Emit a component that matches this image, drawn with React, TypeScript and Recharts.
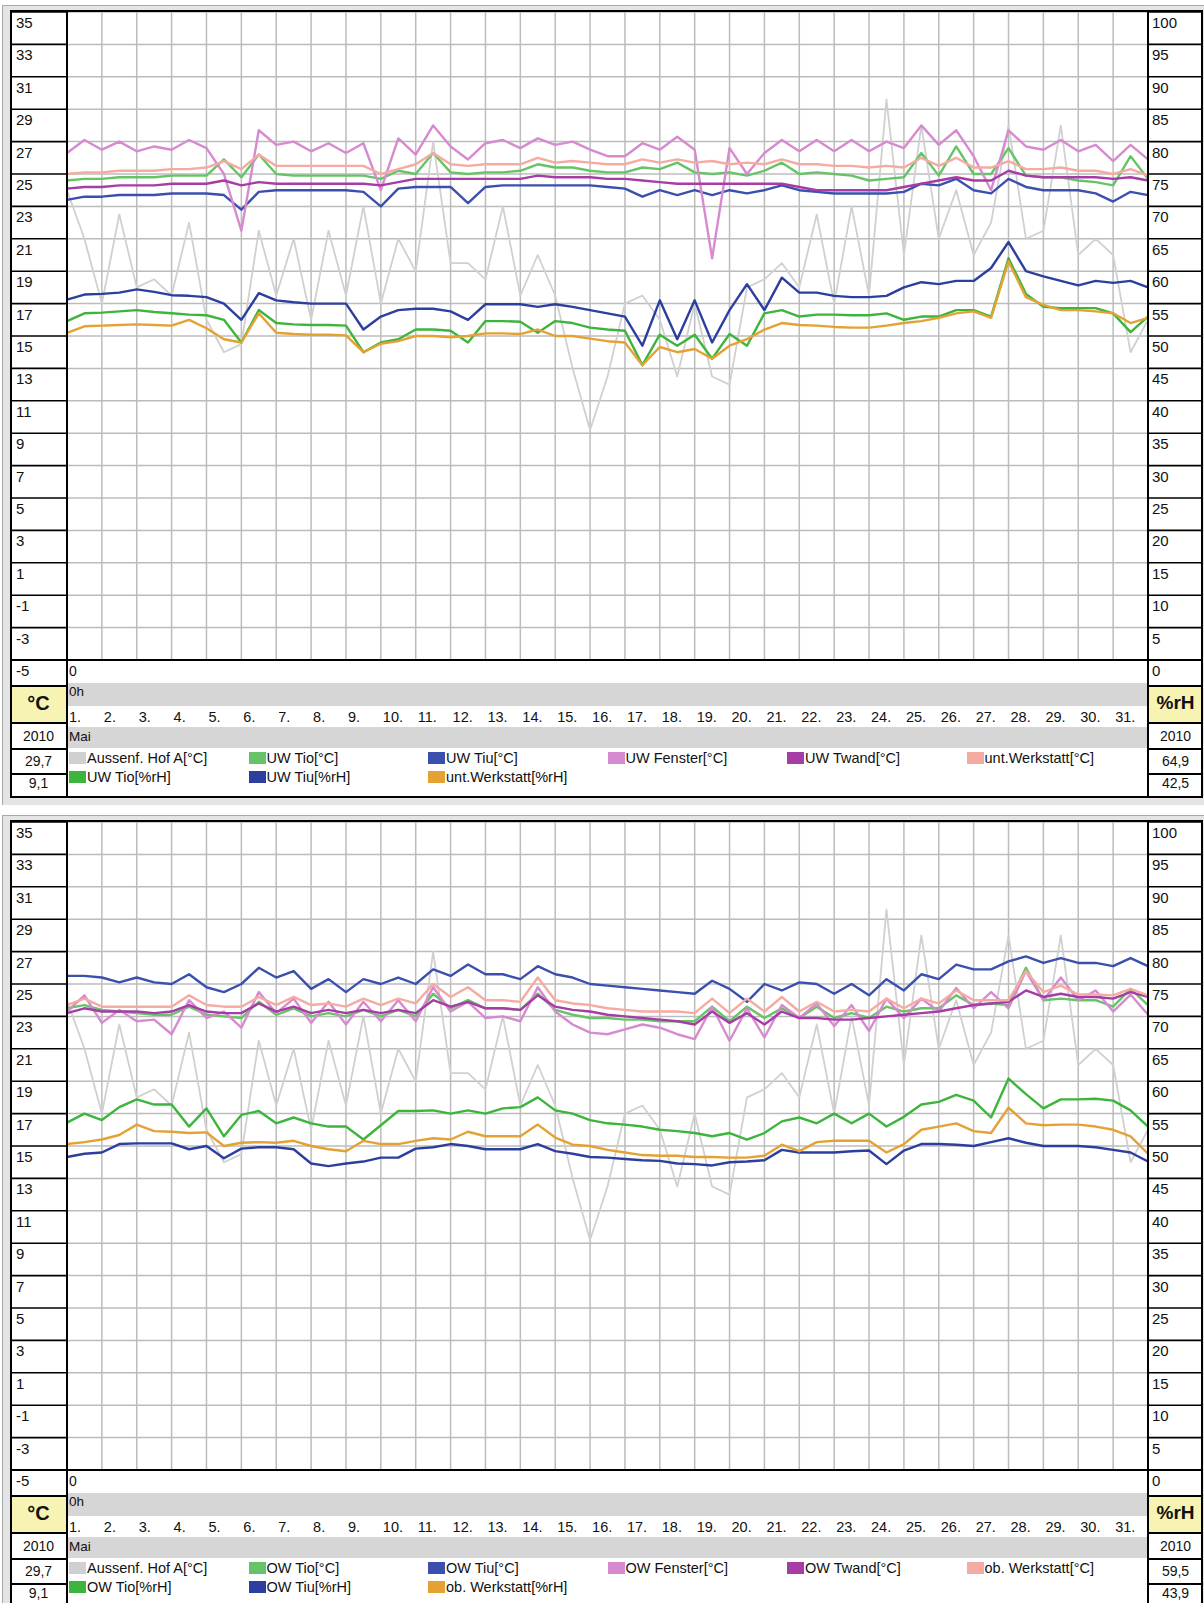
import React from "react";
import { LineChart, Line, XAxis, YAxis, CartesianGrid } from "recharts";

// time in days since 1 May 0h, half-day steps
const days = [
  0, 0.5, 1, 1.5, 2, 2.5, 3, 3.5, 4, 4.5,
  5, 5.5, 6, 6.5, 7, 7.5, 8, 8.5, 9, 9.5,
  10, 10.5, 11, 11.5, 12, 12.5, 13, 13.5, 14, 14.5,
  15, 15.5, 16, 16.5, 17, 17.5, 18, 18.5, 19, 19.5,
  20, 20.5, 21, 21.5, 22, 22.5, 23, 23.5, 24, 24.5,
  25, 25.5, 26, 26.5, 27, 27.5, 28, 28.5, 29, 29.5,
  30, 30.5, 31,
];
const dayTicks = [0, 1, 2, 3, 4, 5, 6, 7, 8, 9, 10, 11, 12, 13, 14, 15, 16, 17, 18, 19, 20, 21, 22, 23, 24, 25, 26, 27, 28, 29, 30, 31];
const dayLabels = ["1.", "2.", "3.", "4.", "5.", "6.", "7.", "8.", "9.", "10.", "11.", "12.", "13.", "14.", "15.", "16.", "17.", "18.", "19.", "20.", "21.", "22.", "23.", "24.", "25.", "26.", "27.", "28.", "29.", "30.", "31."];
const tempTicks = [-5, -3, -1, 1, 3, 5, 7, 9, 11, 13, 15, 17, 19, 21, 23, 25, 27, 29, 31, 33, 35];
const rhTicks = [0, 5, 10, 15, 20, 25, 30, 35, 40, 45, 50, 55, 60, 65, 70, 75, 80, 85, 90, 95, 100];

// outside sensor, same in both panels
const aussenHof = [
  24, 21, 17, 22.5, 18, 18.5, 17.5, 22, 16, 14,
  14.5, 21.5, 17.5, 21, 16, 21.5, 17.5, 23, 17, 21,
  19, 27, 19.5, 19.5, 18.5, 23, 17.5, 20, 17.5, 13,
  9.2, 12.5, 17, 17.5, 16, 12.5, 17, 12.5, 12, 18,
  18.5, 19.5, 18, 22.5, 17, 23, 17.5, 29.6, 20, 28,
  21, 24, 20, 22, 28, 21, 21.5, 28, 20, 21,
  20, 14, 16,
];

// upper panel (UW / unt. Werkstatt)
const uwTioC = [
  24.6, 24.7, 24.7, 24.8, 24.8, 24.8, 24.9, 24.9, 24.9, 25.9,
  24.8, 26.2, 25.0, 24.9, 24.9, 24.9, 24.9, 24.9, 24.7, 25.2,
  25.0, 26.3, 25.1, 25.0, 25.1, 25.1, 25.2, 25.6, 25.4, 25.4,
  25.2, 25.1, 25.1, 25.4, 25.3, 25.7, 25.1, 25.0, 25.1, 24.9,
  25.2, 25.7, 25.0, 25.1, 25.0, 24.9, 24.6, 24.7, 24.8, 26.3,
  24.9, 26.7, 25.0, 25.0, 26.6, 24.9, 24.8, 24.8, 24.6, 24.5,
  24.3, 26.1, 24.7,
];
const uwTiuC = [
  23.4, 23.6, 23.6, 23.7, 23.7, 23.7, 23.8, 23.8, 23.8, 23.7,
  22.8, 23.9, 24.0, 24.0, 24.0, 24.0, 24.0, 23.9, 23.0, 24.1,
  24.2, 24.2, 24.2, 23.2, 24.2, 24.3, 24.3, 24.3, 24.3, 24.3,
  24.3, 24.2, 24.1, 23.6, 24.0, 23.7, 24.0, 23.7, 24.0, 23.8,
  24.0, 24.3, 24.0, 23.9, 23.8, 23.8, 23.8, 23.8, 23.9, 24.4,
  24.3, 24.7, 24.0, 23.8, 24.7, 24.2, 24.0, 24.0, 24.0, 23.8,
  23.3, 23.9, 23.7,
];
const uwFenster = [
  26.3, 27.1, 26.5, 27.0, 26.4, 26.7, 26.5, 27.1, 26.6, 25.0,
  21.5, 27.7, 26.8, 27.0, 26.4, 26.9, 26.3, 26.9, 24.0, 27.2,
  26.2, 28.0, 26.7, 25.9, 26.9, 27.1, 26.6, 27.2, 26.8, 27.0,
  26.5, 26.1, 26.1, 26.9, 26.5, 27.3, 26.5, 19.8, 26.6, 25.0,
  26.3, 27.1, 26.4, 27.1, 26.4, 27.1, 26.4, 27.0, 26.6, 28.0,
  26.8, 27.7, 26.1, 24.0, 27.7, 26.7, 26.5, 27.1, 26.4, 26.8,
  25.8, 26.8, 25.9,
];
const uwTwand = [
  24.1, 24.2, 24.2, 24.3, 24.3, 24.3, 24.4, 24.4, 24.4, 24.6,
  24.3, 24.5, 24.4, 24.4, 24.4, 24.4, 24.4, 24.4, 24.3, 24.5,
  24.7, 24.7, 24.7, 24.7, 24.7, 24.7, 24.7, 24.9, 24.8, 24.8,
  24.8, 24.7, 24.7, 24.6, 24.5, 24.4, 24.4, 24.4, 24.4, 24.4,
  24.4, 24.4, 24.2, 24.0, 24.0, 24.0, 24.0, 24.0, 24.2, 24.4,
  24.6, 24.8, 24.6, 24.6, 25.2, 24.9, 24.8, 24.8, 24.8, 24.8,
  24.7, 24.8, 24.6,
];
const untWerkstattC = [
  25.0, 25.1, 25.1, 25.2, 25.2, 25.2, 25.3, 25.3, 25.4, 25.8,
  25.3, 26.2, 25.5, 25.5, 25.5, 25.5, 25.5, 25.5, 25.0, 25.3,
  25.6, 26.3, 25.6, 25.5, 25.6, 25.6, 25.6, 26.0, 25.7, 25.8,
  25.7, 25.6, 25.6, 25.9, 25.7, 25.9, 25.7, 25.8, 25.6, 25.7,
  25.6, 25.9, 25.6, 25.6, 25.5, 25.5, 25.4, 25.5, 25.4, 26.0,
  25.5, 26.0, 25.4, 25.4, 25.8, 25.3, 25.3, 25.4, 25.2, 25.2,
  25.0, 25.3, 24.9,
];
const uwTioRH = [
  52.3, 53.5, 53.6, 53.8, 54.0, 53.7, 53.5, 53.3, 53.2, 52.5,
  49.0, 54.0, 52.0, 51.8, 51.7, 51.7, 51.6, 47.5, 49.0, 49.5,
  51.0, 51.0, 50.8, 49.0, 52.3, 52.3, 52.2, 50.5, 52.3, 52.0,
  51.3, 51.0, 50.8, 45.5, 50.2, 48.5, 50.2, 46.5, 50.3, 48.5,
  53.5, 54.0, 53.0, 53.3, 53.3, 53.2, 53.2, 53.5, 52.5, 53.0,
  53.0, 54.0, 54.0, 53.0, 62.0, 56.5, 54.5, 54.3, 54.3, 54.3,
  53.5, 50.6, 53.0,
];
const uwTiuRH = [
  55.6, 56.4, 56.5, 56.7, 57.2, 56.8, 56.3, 56.2, 56.0, 55.0,
  52.5, 56.6, 55.5, 55.2, 55.0, 55.0, 55.0, 51.0, 53.0, 54.0,
  54.2, 54.2, 53.8, 52.5, 54.9, 54.9, 54.9, 54.5, 54.9, 54.5,
  54.0, 53.5, 53.0, 48.5, 55.5, 49.5, 55.5, 49.0, 54.0, 58.0,
  54.0, 59.0, 56.7, 56.7, 56.2, 56.0, 56.0, 56.2, 57.5, 58.3,
  58.0, 58.5, 58.5, 60.5, 64.5, 60.0, 59.2, 58.5, 57.8, 58.5,
  58.2, 58.5, 57.5,
];
const untWerkstattRH = [
  50.5, 51.5, 51.6, 51.7, 51.8, 51.7, 51.6, 52.5, 51.2, 49.5,
  49.0, 53.5, 50.5, 50.3, 50.2, 50.2, 50.1, 47.5, 48.8, 49.2,
  50.0, 50.0, 49.8, 50.0, 50.4, 50.4, 50.3, 51.0, 50.0, 50.0,
  49.6, 49.2, 49.0, 45.5, 48.3, 47.5, 48.0, 46.5, 48.5, 49.5,
  51.0, 52.0, 51.7, 51.6, 51.4, 51.3, 51.3, 51.6, 52.0, 52.3,
  52.8, 53.5, 53.8, 52.8, 61.5, 56.0, 54.8, 54.0, 54.0, 53.8,
  53.5, 52.0, 52.8,
];

// lower panel (OW / ob. Werkstatt)
const owTioC = [
  23.5, 23.7, 23.4, 23.3, 23.2, 23.1, 23.1, 23.6, 23.1, 23.0,
  22.9, 23.9, 23.1, 23.5, 23.0, 23.2, 23.0, 23.4, 23.0, 23.4,
  23.0, 24.4, 23.5, 24.0, 23.5, 23.5, 23.4, 24.4, 23.4, 23.1,
  22.9, 22.9, 22.8, 22.8, 22.7, 22.7, 22.7, 23.6, 22.7, 23.6,
  22.9, 23.5, 22.9, 23.6, 22.9, 23.2, 22.9, 23.6, 23.3, 23.5,
  23.5, 24.3, 23.7, 23.8, 23.7, 26.0, 24.0, 24.1, 24.0, 24.0,
  23.6, 24.7, 23.7,
];
const owTiuC = [
  25.5, 25.5, 25.4, 25.1, 25.4, 25.1, 25.0, 25.6, 24.8, 24.5,
  25.0, 26.0, 25.4, 25.8, 24.7, 25.3, 24.5, 25.3, 25.0, 25.4,
  25.0, 25.9, 25.5, 26.2, 25.6, 25.6, 25.3, 26.1, 25.6, 25.4,
  25.0, 24.9, 24.8, 24.7, 24.6, 24.5, 24.4, 25.2, 24.7, 23.9,
  25.0, 24.6, 25.1, 25.0, 24.4, 25.0, 24.3, 25.3, 24.6, 25.6,
  25.3, 26.2, 25.9, 25.9, 26.4, 26.7, 26.3, 26.6, 26.3, 26.3,
  26.1, 26.6, 26.1,
];
const owFenster = [
  23.3, 24.3, 22.6, 23.4, 22.7, 22.8, 21.9, 24.0, 22.9, 23.3,
  22.3, 24.5, 23.2, 24.1, 22.6, 23.9, 22.5, 23.9, 22.7, 24.0,
  22.7, 24.8, 23.3, 23.9, 22.9, 23.0, 22.7, 24.8, 23.3, 22.5,
  22.0, 21.9, 22.2, 22.5, 22.3, 21.9, 21.6, 23.6, 21.5, 23.5,
  21.7, 23.7, 22.9, 23.8, 22.4, 23.7, 22.1, 24.1, 22.9, 24.1,
  23.3, 24.75, 23.5, 24.5, 23.5, 25.8, 24.0, 25.4, 24.0, 24.6,
  23.3, 24.35, 23.1,
];
const owTwand = [
  23.2, 23.5, 23.3, 23.3, 23.3, 23.2, 23.3, 23.7, 23.3, 23.2,
  23.2, 23.8, 23.3, 23.6, 23.2, 23.4, 23.2, 23.4, 23.2, 23.4,
  23.2, 24.0, 23.6, 23.9, 23.5, 23.5, 23.4, 24.3, 23.6, 23.4,
  23.3, 23.1, 23.0, 22.9, 22.8, 22.7, 22.5, 23.3, 22.6, 23.2,
  22.5, 23.3, 22.9, 22.9, 22.8, 22.8, 22.9, 23.0, 23.1, 23.2,
  23.3, 23.5, 23.7, 23.8, 23.9, 24.6, 24.2, 24.4, 24.2, 24.2,
  24.1, 24.5, 24.2,
];
const obWerkstattC = [
  23.7, 24.1, 23.6, 23.6, 23.6, 23.6, 23.6, 24.3, 23.7, 23.6,
  23.6, 24.2, 23.7, 24.2, 23.7, 23.8, 23.6, 24.1, 23.7, 24.1,
  23.8, 25.0, 24.2, 24.8, 24.0, 24.0, 23.9, 25.4, 24.0, 23.8,
  23.7, 23.5, 23.4, 23.3, 23.3, 23.3, 23.2, 24.1, 23.2, 24.1,
  23.3, 24.2, 23.3, 23.9, 23.3, 23.4, 23.3, 24.1, 23.5, 24.1,
  23.8, 24.6, 24.0, 24.0, 24.0, 25.8, 24.5, 24.9, 24.35, 24.35,
  24.3, 24.7, 24.3,
];
const owTioRH = [
  53.6, 55.0, 54.0, 56.0, 57.2, 56.4, 56.4, 53.0, 55.8, 51.5,
  54.8, 55.4, 53.5, 54.4, 53.5, 53.0, 53.0, 51.0, 53.2, 55.4,
  55.4, 55.5, 55.0, 55.5, 55.0, 55.8, 56.0, 57.5, 55.5, 55.0,
  54.0, 53.5, 53.3, 53.0, 52.5, 52.3, 52.0, 51.5, 52.0, 51.0,
  52.0, 53.8, 54.4, 53.5, 55.0, 53.5, 55.0, 53.0, 54.5, 56.4,
  56.8, 57.9, 57.0, 54.4, 60.4, 58.0, 55.8, 57.2, 57.2, 57.3,
  57.0, 55.5, 53.0,
];
const owTiuRH = [
  48.3, 48.8, 49.0, 50.3, 50.4, 50.4, 50.4, 49.5, 50.0, 48.1,
  49.6, 49.8, 49.8, 49.5, 47.3, 46.9, 47.3, 47.6, 48.2, 48.2,
  49.6, 49.8, 50.3, 50.0, 49.5, 49.5, 49.5, 50.3, 49.2, 48.8,
  48.3, 48.2, 48.0, 47.8, 47.7, 47.3, 47.2, 47.0, 47.5, 47.6,
  47.8, 49.4, 49.0, 49.0, 49.0, 49.2, 49.3, 47.2, 49.3, 50.3,
  50.3, 50.2, 50.0, 50.6, 51.2, 50.5, 50.0, 50.0, 50.0, 49.8,
  49.4, 49.0, 47.6,
];
const obWerkstattRH = [
  50.3, 50.6, 51.0, 51.7, 53.3, 52.3, 52.2, 52.0, 52.1, 50.0,
  50.5, 50.6, 50.5, 50.8, 50.0, 49.5, 49.2, 50.8, 50.3, 50.3,
  50.8, 51.2, 51.0, 52.2, 51.5, 51.5, 51.5, 53.3, 51.3, 50.2,
  50.0, 49.4, 49.0, 48.6, 48.5, 48.5, 48.3, 48.3, 48.2, 48.2,
  48.5, 50.2, 49.2, 50.6, 50.8, 50.8, 50.8, 49.0, 50.3, 52.5,
  53.0, 53.5, 52.3, 52.0, 55.9, 53.5, 53.2, 53.3, 53.3, 53.0,
  52.5, 51.5, 48.8,
];

const FONT = "'Liberation Sans', Arial, sans-serif";
const GREY = "#d0d0d0";
const GREEN_C = "#66c466";
const GREEN_RH = "#3db53d";
const BLUE_C = "#3a4fae";
const BLUE_RH = "#2c3e9e";
const PINK = "#d68ad0";
const PURPLE = "#a63ca6";
const SALMON = "#f5aaa2";
const ORANGE = "#e3a233";
const BAND = "#d6d6d6";
const YELLOW = "#f7f3b2";

// panel layout
const W = 1204;
const H = 800;
const FL = 10; // frame left
const FR = 1203;
const FT = 10;
const FB = 798;
const PL = 67; // plot left
const PR = 1148; // plot right
const PB = 660; // plot bottom

interface Series {
  key: string;
  name: string;
  color: string;
  axis: "t" | "rh";
  width: number;
  values: number[];
}

function LeftTick(props: any) {
  const { y, payload } = props;
  return (
    <g>
      <line x1={FL} x2={PL} y1={y} y2={y} stroke="#000" strokeWidth={1.6} />
      <text x={FL + 6} y={y + 16} fontSize={15} fontFamily={FONT} fill="#111">
        {String(payload.value)}
      </text>
    </g>
  );
}

function RightTick(props: any) {
  const { y, payload } = props;
  return (
    <g>
      <line x1={PR} x2={FR} y1={y} y2={y} stroke="#000" strokeWidth={1.6} />
      <text x={PR + 4} y={y + 16} fontSize={15} fontFamily={FONT} fill="#111">
        {String(payload.value)}
      </text>
    </g>
  );
}

function DayTick(props: any) {
  const { x, payload } = props;
  const label = dayLabels[payload.value];
  if (!label) return <g />;
  return (
    <text x={x + 2} y={722} fontSize={14.5} fontFamily={FONT} fill="#111">
      {label}
    </text>
  );
}

const abs = (s: React.CSSProperties): React.CSSProperties => ({ position: "absolute", ...s });
const txt = (s: React.CSSProperties): React.CSSProperties => ({
  position: "absolute",
  fontFamily: FONT,
  fontSize: 14,
  color: "#111",
  lineHeight: "16px",
  whiteSpace: "nowrap",
  ...s,
});

function Panel({ y0, series, minL, maxL, maxR, minR }: { y0: number; series: Series[]; maxL: string; minL: string; maxR: string; minR: string }) {
  const rows = days.map((t, i) => {
    const r: Record<string, number> = { t };
    series.forEach((s) => {
      r[s.key] = s.values[i];
    });
    return r;
  });
  const cellLines = [685, 722, 748, 773];
  return (
    <div style={abs({ left: 0, top: y0, width: W, height: H + 6 })}>
      <div style={abs({ left: 2, top: 5, width: 1201, height: 799, background: "#e4e4e4", borderTop: "1px solid #a8a8a8", borderLeft: "1px solid #a8a8a8" })} />
      <div style={abs({ left: FL, top: FT, width: FR - FL, height: FB - FT, background: "#fff" })} />
      <div style={abs({ left: PL, top: 683, width: PR - PL, height: 23, background: BAND })} />
      <div style={abs({ left: PL, top: 727, width: PR - PL, height: 21, background: BAND })} />
      <div style={abs({ left: FL, top: 685, width: PL - FL, height: 37, background: YELLOW })} />
      <div style={abs({ left: PR, top: 685, width: FR - PR, height: 37, background: YELLOW })} />

      <div style={abs({ left: 0, top: 0 })}>
        <LineChart width={W} height={H} data={rows} margin={{ top: 12, right: 5, bottom: 0, left: 11 }}>
          <CartesianGrid yAxisId="t" stroke="#bcbcbc" strokeWidth={1.5} />
          <XAxis
            dataKey="t"
            type="number"
            domain={[0, 31]}
            ticks={dayTicks}
            interval={0}
            height={H - PB}
            axisLine={false}
            tickLine={false}
            tick={(p: any) => <DayTick {...p} />}
          />
          <YAxis
            yAxisId="t"
            orientation="left"
            type="number"
            width={56}
            domain={[-5, 35]}
            ticks={tempTicks}
            interval={0}
            axisLine={false}
            tickLine={false}
            tick={(p: any) => <LeftTick {...p} />}
          />
          <YAxis
            yAxisId="rh"
            orientation="right"
            type="number"
            width={51}
            domain={[0, 100]}
            ticks={rhTicks}
            interval={0}
            axisLine={false}
            tickLine={false}
            tick={(p: any) => <RightTick {...p} />}
          />
          {series.map((s) => (
            <Line
              key={s.key}
              yAxisId={s.axis}
              dataKey={s.key}
              name={s.name}
              type="linear"
              stroke={s.color}
              strokeWidth={s.width}
              strokeLinejoin="round"
              dot={false}
              activeDot={false}
              isAnimationActive={false}
            />
          ))}
        </LineChart>
      </div>

      {/* frame and cell borders */}
      <div style={abs({ left: FL, top: FT, width: FR - FL, height: FB - FT, border: "2px solid #000", boxSizing: "border-box" })} />
      <div style={abs({ left: PL - 1, top: FT, width: 2, height: FB - FT, background: "#000" })} />
      <div style={abs({ left: PR - 1, top: FT, width: 2, height: FB - FT, background: "#000" })} />
      <div style={abs({ left: FL, top: PB - 1, width: FR - FL, height: 2, background: "#000" })} />
      {cellLines.map((y) => (
        <React.Fragment key={y}>
          <div style={abs({ left: FL, top: y, width: PL - FL, height: 2, background: "#000" })} />
          <div style={abs({ left: PR, top: y, width: FR - PR, height: 2, background: "#000" })} />
        </React.Fragment>
      ))}

      {/* footer texts */}
      <div style={txt({ left: PL + 2, top: 663 })}>0</div>
      <div style={txt({ left: PL + 2, top: 684, fontSize: 13.5 })}>0h</div>
      <div style={txt({ left: PL + 2, top: 729, fontSize: 13.5 })}>Mai</div>
      <div style={txt({ left: FL, width: PL - FL, top: 690, textAlign: "center", fontSize: 20, fontWeight: 700, lineHeight: "26px" })}>°C</div>
      <div style={txt({ left: PR, width: FR - PR, top: 690, textAlign: "center", fontSize: 19, fontWeight: 700, lineHeight: "26px" })}>%rH</div>
      <div style={txt({ left: FL, width: PL - FL, top: 728, textAlign: "center" })}>2010</div>
      <div style={txt({ left: PR, width: FR - PR, top: 728, textAlign: "center" })}>2010</div>
      <div style={txt({ left: FL, width: PL - FL, top: 753, textAlign: "center" })}>{maxL}</div>
      <div style={txt({ left: PR, width: FR - PR, top: 753, textAlign: "center" })}>{maxR}</div>
      <div style={txt({ left: FL, width: PL - FL, top: 775, textAlign: "center" })}>{minL}</div>
      <div style={txt({ left: PR, width: FR - PR, top: 775, textAlign: "center" })}>{minR}</div>

      {/* legend */}
      {series.map((s, i) => {
        const col = i < 6 ? i : i - 6;
        const row = i < 6 ? 0 : 1;
        const left = 69 + col * 179.5;
        const top = row === 0 ? 752 : 771;
        return (
          <React.Fragment key={s.key}>
            <div style={abs({ left, top, width: 17, height: 12, background: s.color })} />
            <div style={txt({ left: left + 18, top: top - 2, fontSize: 14.5 })}>{s.name}</div>
          </React.Fragment>
        );
      })}
    </div>
  );
}

const upperSeries: Series[] = [
  { key: "a", name: "Aussenf. Hof A[°C]", color: GREY, axis: "t", width: 1.8, values: aussenHof },
  { key: "tioC", name: "UW Tio[°C]", color: GREEN_C, axis: "t", width: 2.4, values: uwTioC },
  { key: "tiuC", name: "UW Tiu[°C]", color: BLUE_C, axis: "t", width: 2.4, values: uwTiuC },
  { key: "fen", name: "UW Fenster[°C]", color: PINK, axis: "t", width: 2.4, values: uwFenster },
  { key: "wand", name: "UW Twand[°C]", color: PURPLE, axis: "t", width: 2.4, values: uwTwand },
  { key: "werkC", name: "unt.Werkstatt[°C]", color: SALMON, axis: "t", width: 2.4, values: untWerkstattC },
  { key: "tioRH", name: "UW Tio[%rH]", color: GREEN_RH, axis: "rh", width: 2.4, values: uwTioRH },
  { key: "tiuRH", name: "UW Tiu[%rH]", color: BLUE_RH, axis: "rh", width: 2.4, values: uwTiuRH },
  { key: "werkRH", name: "unt.Werkstatt[%rH]", color: ORANGE, axis: "rh", width: 2.4, values: untWerkstattRH },
];

const lowerSeries: Series[] = [
  { key: "a", name: "Aussenf. Hof A[°C]", color: GREY, axis: "t", width: 1.8, values: aussenHof },
  { key: "tioC", name: "OW Tio[°C]", color: GREEN_C, axis: "t", width: 2.4, values: owTioC },
  { key: "tiuC", name: "OW Tiu[°C]", color: BLUE_C, axis: "t", width: 2.4, values: owTiuC },
  { key: "fen", name: "OW Fenster[°C]", color: PINK, axis: "t", width: 2.4, values: owFenster },
  { key: "wand", name: "OW Twand[°C]", color: PURPLE, axis: "t", width: 2.4, values: owTwand },
  { key: "werkC", name: "ob. Werkstatt[°C]", color: SALMON, axis: "t", width: 2.4, values: obWerkstattC },
  { key: "tioRH", name: "OW Tio[%rH]", color: GREEN_RH, axis: "rh", width: 2.4, values: owTioRH },
  { key: "tiuRH", name: "OW Tiu[%rH]", color: BLUE_RH, axis: "rh", width: 2.4, values: owTiuRH },
  { key: "werkRH", name: "ob. Werkstatt[%rH]", color: ORANGE, axis: "rh", width: 2.4, values: obWerkstattRH },
];

export default function App() {
  return (
    <div style={{ position: "absolute", left: 0, top: 0, width: 1204, height: 1603, background: "#fff", overflow: "hidden" }}>
      <Panel y0={0} series={upperSeries} maxL="29,7" minL="9,1" maxR="64,9" minR="42,5" />
      <Panel y0={810} series={lowerSeries} maxL="29,7" minL="9,1" maxR="59,5" minR="43,9" />
    </div>
  );
}
